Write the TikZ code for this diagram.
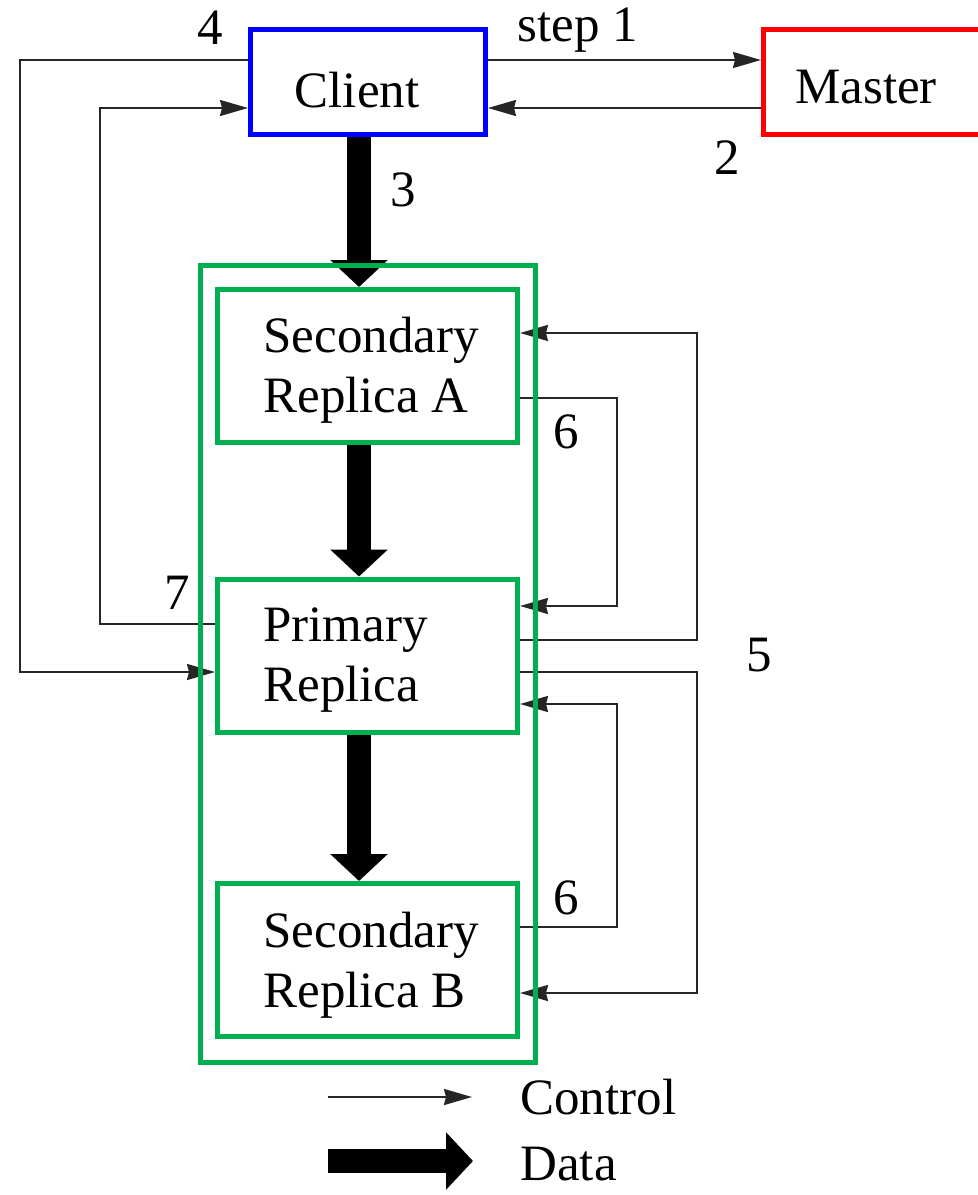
\documentclass[tikz,border=0pt]{standalone}
\usepackage{fontspec}
\setmainfont{Liberation Serif}
\usetikzlibrary{arrows.meta}
\definecolor{gfsgreen}{RGB}{0,176,80}
\begin{document}
\begin{tikzpicture}[x=0.5pt,y=-0.5pt,
  font=\fontsize{25.5}{30}\selectfont,
  box/.style={draw, line width=2.5pt, inner sep=0pt},
  repbox/.style={box, draw=gfsgreen, minimum width=150pt, minimum height=76.5pt},
  boxtext/.style={anchor=west, align=left, inner sep=0pt},
  lbl/.style={inner sep=0pt},
  ctrl/.style={line width=1pt, draw=black!85, -{Stealth[length=14pt,width=8pt,inset=1pt]}},
  dataarrow/.style={line width=12pt, line cap=butt, -{Triangle[length=13.5pt,width=28pt]}}
]
\useasboundingbox (0,0) rectangle (978,1195);
\fill[white] (0,0) rectangle (978,1195);

% boxes
\node[box, draw=blue, minimum width=117.5pt, minimum height=52.5pt] (client) at (368,82) {};
\node[lbl] at (357,90) {Client};
\node[box, draw=red, minimum width=117.5pt, minimum height=52.5pt] (master) at (881,82) {};
\node[lbl] at (866,87) {Master};

\node[repbox] (secA) at (367.5,366) {};
\node[boxtext] at (263,370) {Secondary\\Replica A};
\node[repbox] (prim) at (367.5,655.5) {};
\node[boxtext] at (263,660) {Primary\\Replica};
\node[repbox] (secB) at (367.5,960) {};
\node[boxtext] at (263,965) {Secondary\\Replica B};

% control: client <-> master
\draw[ctrl] (client.east |- 0,60) -- (master.west |- 0,60);
\draw[ctrl] (master.west |- 0,108) -- (client.east |- 0,108);
\node[lbl] at (578,30) {step 1};
\node[lbl] at (727,158) {2};

% step 4: client -> primary
\draw[ctrl] (client.west |- 0,60) -- (20,60) -- (20,672) -- (prim.west |- 0,672);
\node[lbl] at (210,28) {4};
% step 7: primary -> client
\draw[ctrl] (prim.west |- 0,624) -- (100,624) -- (100,108) -- (client.west |- 0,108);
\node[lbl] at (177,593) {7};

% step 5: primary -> secondaries
\draw[ctrl] (prim.east |- 0,640) -- (697,640) -- (697,333) -- (secA.east |- 0,333);
\draw[ctrl] (prim.east |- 0,672) -- (697,672) -- (697,993) -- (secB.east |- 0,993);
\node[lbl] at (759,655) {5};

% step 6: secondaries -> primary
\draw[ctrl] (secA.east |- 0,398) -- (617,398) -- (617,606) -- (prim.east |- 0,606);
\node[lbl] at (566,432) {6};
\draw[ctrl] (secB.east |- 0,927) -- (617,927) -- (617,704) -- (prim.east |- 0,704);
\node[lbl] at (566,898) {6};

% data flow
\draw[dataarrow] (359,0 |- client.south) -- (359,0 |- secA.north);
\node[lbl] at (403,190) {3};
\draw[dataarrow] (359,0 |- secA.south) -- (359,0 |- prim.north);
\draw[dataarrow] (359,0 |- prim.south) -- (359,0 |- secB.north);

% outer chunkserver group
\node[box, draw=gfsgreen, minimum width=167.5pt, minimum height=398.5pt] (group) at (368,664) {};

% legend
\coordinate (lc1) at (328,1097);
\coordinate (lc2) at (472,1097);
\draw[ctrl] (lc1) -- (lc2);
\node[anchor=west, inner sep=0pt] (lctrl) at (520,1097) {Control};
\coordinate (ld1) at (328,1161);
\coordinate (ld2) at (473,1161);
\draw[dataarrow] (ld1) -- (ld2);
\node[anchor=west, inner sep=0pt] (ldata) at (520,1164) {Data};
\end{tikzpicture}
\end{document}
